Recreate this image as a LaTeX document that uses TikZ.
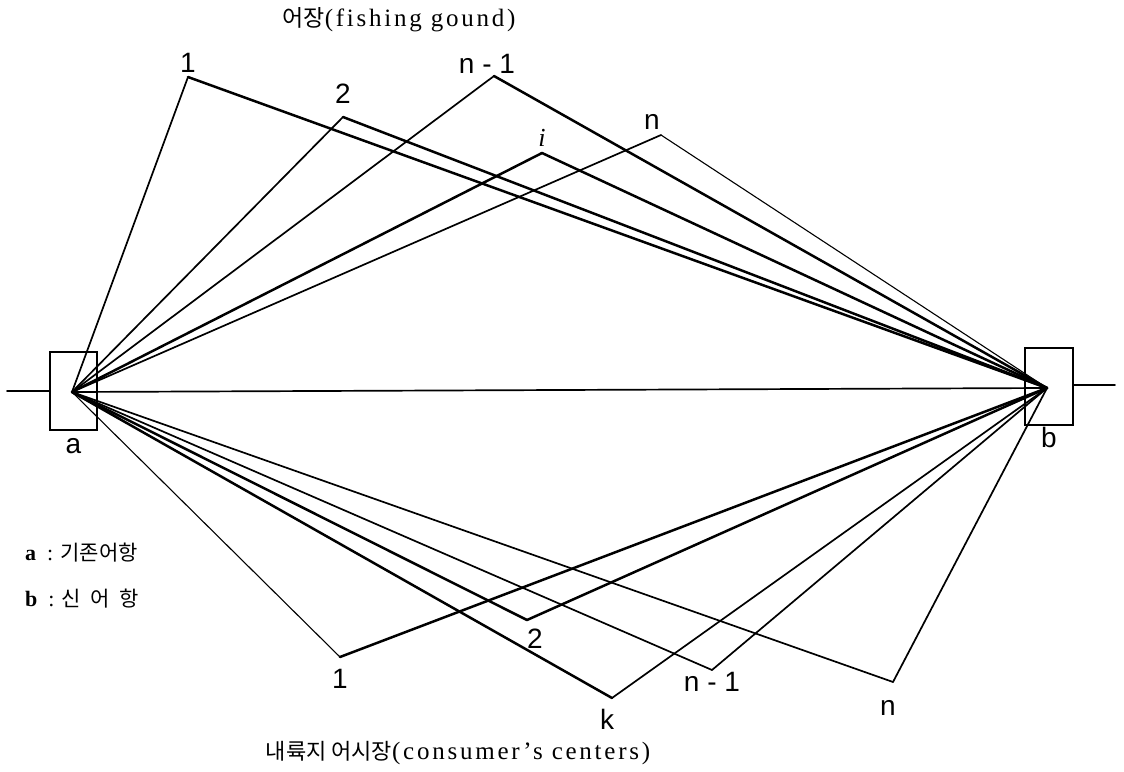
\documentclass[tikz,border=0pt]{standalone}
\usepackage{fontspec}
\setmainfont{Liberation Serif}
\setsansfont{Liberation Sans}
\newfontfamily\krfont{Noto Sans CJK KR}
\newfontfamily\wideserif[LetterSpace=11]{Liberation Serif}
\usetikzlibrary{positioning}

\tikzset{
    routeThin/.style={line width=1.1pt, line cap=round},
    routeMed/.style={line width=1.7pt, line cap=round},
    routeThick/.style={line width=2.5pt, line cap=round},
    portBox/.style={draw, line width=1.6pt, minimum width=47pt, minimum height=78pt, inner sep=0pt},
    siteLabel/.style={font=\sffamily\fontsize{28}{28}\selectfont, inner sep=1pt},
    titleText/.style={font=\wideserif\fontsize{25}{27}\selectfont, inner sep=0pt},
    keyText/.style={font=\fontsize{22}{24}\selectfont, anchor=west, inner sep=0pt},
}

\begin{document}
\begin{tikzpicture}[x=1pt, y=-1pt]
    \useasboundingbox (0,0) rectangle (1124,771);

    % Ports
    \node[portBox] (boxA) at (73.5,391) {};
    \node[portBox, minimum width=48pt, minimum height=77pt] (boxB) at (1049,386.5) {};
    \coordinate (a) at (72,392);
    \coordinate (b) at (1047,388);
    \coordinate (aIn) at (7,391);
    \coordinate (bOut) at (1115,385);
    \draw[routeMed] (aIn) -- (aIn -| boxA.west);
    \draw[routeMed] (bOut -| boxB.east) -- (bOut);
    \node[siteLabel, below=6pt of boxA] (labA) {a};
    \node[siteLabel, below=0pt of boxB] (labB) {b};

    % Fishing grounds
    \coordinate (f1) at (188,77);
    \coordinate (f2) at (343,117);
    \coordinate (fn1) at (494,76);
    \coordinate (fi) at (542,153);
    \coordinate (fn) at (661,135);

    % Consumer's centers
    \coordinate (m1) at (340,657);
    \coordinate (m2) at (527,620);
    \coordinate (mk) at (612,698);
    \coordinate (mn1) at (712,670);
    \coordinate (mn) at (893,682);

    % Routes
    \draw[routeMed] (a) -- (b);
    \draw[routeMed] (a) -- (f1);   \draw[routeThick] (f1) -- (b);
    \draw[routeMed] (a) -- (f2);   \draw[routeThick] (f2) -- (b);
    \draw[routeMed] (a) -- (fn1);  \draw[routeThick] (fn1) -- (b);
    \draw[routeThick] (a) -- (fi); \draw[routeThick] (fi) -- (b);
    \draw[routeMed] (a) -- (fn);   \draw[routeThin] (fn) -- (b);
    \draw[routeThin] (a) -- (m1);  \draw[routeThick] (m1) -- (b);
    \draw[routeThick] (a) -- (m2); \draw[routeThick] (m2) -- (b);
    \draw[routeThick] (a) -- (mk); \draw[routeMed] (mk) -- (b);
    \draw[routeMed] (a) -- (mn1);  \draw[routeMed] (mn1) -- (b);
    \draw[routeMed] (a) -- (mn);   \draw[routeMed] (mn) -- (b);

    % Labels
    \node[siteLabel, above=3pt of f1] (lf1) {1};
    \node[siteLabel, above=12pt of f2] (lf2) {2};
    \node[siteLabel, above=1pt of fn1, xshift=-7pt] (lfn1) {n - 1};
    \node[siteLabel, font=\itshape\fontsize{26}{26}\selectfont, above=5pt of fi] (lfi) {i};
    \node[siteLabel, above=4pt of fn, xshift=-9pt] (lfn) {n};
    \node[siteLabel, below=11pt of m1] (lm1) {1};
    \node[siteLabel, below=8pt of m2, xshift=8pt] (lm2) {2};
    \node[siteLabel, below=10pt of mk, xshift=-5pt] (lmk) {k};
    \node[siteLabel, below=1pt of mn1] (lmn1) {n - 1};
    \node[siteLabel, below=17pt of mn, xshift=-5pt] (lmn) {n};

    % Titles
    \node[titleText] (ground) at (399,20) {{\krfont\fontsize{23}{26}\selectfont 어장}(fishing gound)};
    \node[titleText] (centers) at (458,753) {{\krfont\fontsize{22}{26}\selectfont 내륙지 어시장}(consumer’s centers)};

    % Key
    \node[keyText] (keyA) at (25,553) {\textbf{a}\ \ : {\krfont\fontsize{21}{24}\selectfont 기존어항}};
    \node[keyText] (keyB) at (25,599) {\textbf{b}\ \ : {\krfont\fontsize{21}{24}\selectfont 신\ \ 어\ \ 항}};
\end{tikzpicture}
\end{document}
